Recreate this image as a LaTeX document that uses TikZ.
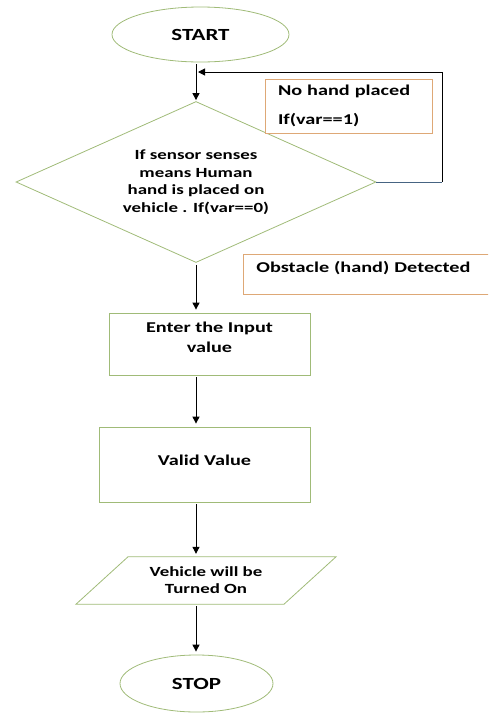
\documentclass[tikz,border=0pt]{standalone}
\usepackage{fontspec}
\newfontfamily\flowfont[FakeStretch=1.35]{Carlito}
\usepackage{tikz}
\usetikzlibrary{shapes.geometric, arrows.meta, calc}
\definecolor{flowgreen}{RGB}{160, 187, 120}
\definecolor{flowtan}{RGB}{222, 168, 118}
\definecolor{loopslate}{RGB}{70, 100, 130}

\begin{document}
\begin{tikzpicture}[x=1pt, y=-1pt, >={Triangle[length=7pt, width=7pt]},
    terminal/.style={ellipse, draw=flowgreen, line width=0.8pt, inner sep=0pt,
        font=\flowfont\bfseries\fontsize{17}{20}\selectfont},
    process/.style={rectangle, draw=flowgreen, line width=0.8pt, inner sep=0pt, align=center,
        font=\flowfont\bfseries\fontsize{15}{20}\selectfont},
    note/.style={rectangle, draw=flowtan, line width=0.8pt, fill=white, inner xsep=13pt, align=left,
        font=\flowfont\bfseries\fontsize{15}{18}\selectfont},
    flowarrow/.style={->, line width=1pt, black}]
    \useasboundingbox (0, 0) rectangle (488, 713);
    \clip (0, 0) rectangle (488, 713);

    \node[terminal, minimum width=177, minimum height=55] (start) at (200.5, 34.5) {START};
    \node[diamond, draw=flowgreen, line width=0.8pt, inner sep=0pt, aspect=2.2, align=center,
        minimum width=360, minimum height=161, font=\flowfont\bfseries\fontsize{14}{17.5}\selectfont]
        (diamond) at (196, 182) {If sensor senses\\means Human\\hand is placed on\\vehicle . If(var==0)};
    \node[note, minimum height=54, text width=141] (nohand) at (348.5, 106) {No hand placed\\[11pt]If(var==1)};
    \node[note, anchor=west, minimum height=40, text width=224, text height=10pt, text depth=14pt]
        (obstacle) at (243, 274) {Obstacle (hand) Detected};
    \node[process, minimum width=201, minimum height=62, text depth=14pt] (enter) at (209.5, 344) {Enter the Input\\value};
    \node[process, minimum width=211, minimum height=75, text depth=8pt] (valid) at (204.5, 464.5) {Valid Value};
    \node[align=center, inner sep=0pt, minimum height=47, font=\flowfont\bfseries\fontsize{14}{17}\selectfont]
        (vehicle) at (206, 580.5) {Vehicle will be\\Turned On};
    \draw[flowgreen, line width=0.8pt] ($(vehicle.north)+(-78, 0)$) -- ($(vehicle.north)+(130, 0)$)
        -- ($(vehicle.south)+(78, 0)$) -- ($(vehicle.south)+(-130, 0)$) -- cycle;
    \node[terminal, minimum width=153, minimum height=57] (stop) at (196.5, 683.5) {STOP};

    \coordinate (loopR) at (442, 182);
    \coordinate (loopT) at (442, 72);
    \coordinate (join) at (diamond.north |- loopT);
    \draw[loopslate, line width=1pt] (diamond.east) -- (loopR);
    \draw[flowarrow, shorten >=2pt] (loopR) -- (loopT) -- (join);
    \draw[flowarrow] ($(start.south -| diamond.north)+(0, 2)$) -- ($(diamond.north)+(0, -1)$);

    \foreach \from/\to in {diamond/enter, enter/valid, valid/vehicle, vehicle/stop} {
        \draw[flowarrow] ($(\from.south -| diamond.north)+(0, 2)$) -- ($(\to.north -| diamond.north)+(0, -3)$);
    }
\end{tikzpicture}
\end{document}
